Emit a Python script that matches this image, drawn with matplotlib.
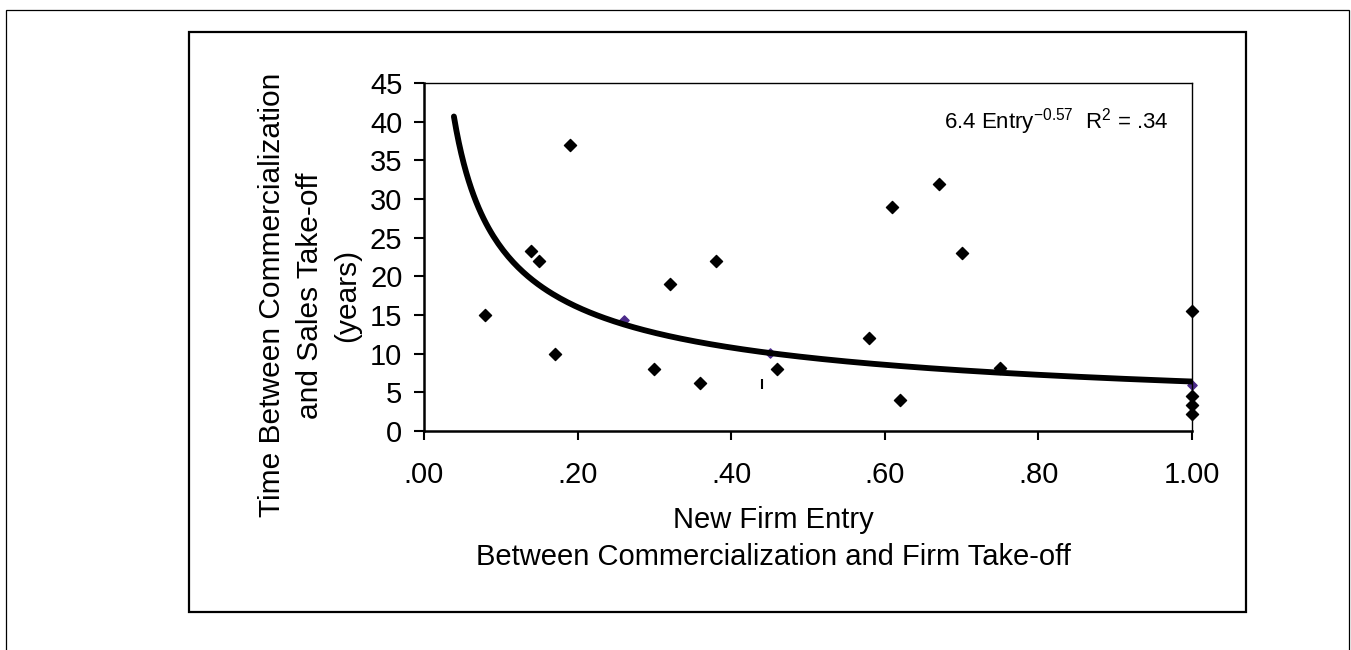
import matplotlib
matplotlib.use("Agg")
import matplotlib.pyplot as plt
from matplotlib.patches import Rectangle
import numpy as np

plt.rcParams["font.family"] = ["Liberation Sans", "DejaVu Sans"]
plt.rcParams["mathtext.fontset"] = "custom"
plt.rcParams["mathtext.rm"] = "Liberation Sans"

# observed products: new firm entry share vs. years to sales take-off
entry = [0.08, 0.19, 0.14, 0.15, 0.17, 0.32, 0.38, 0.30, 0.36, 0.46,
         0.61, 0.67, 0.70, 0.58, 0.62, 0.75, 1.00, 1.00, 1.00, 1.00]
years = [15.0, 37.0, 23.3, 22.0, 10.0, 19.0, 22.0, 8.0, 6.2, 8.0,
         29.0, 32.0, 23.0, 12.0, 4.0, 8.2, 15.5, 4.5, 3.4, 2.2]

# points mostly hidden under the trend line (purple in the source)
hidden_entry = [0.26, 0.45, 1.00]
hidden_years = [14.4, 10.1, 6.0]

# stray dash mark
dash_entry = [0.44]
dash_years = [6.1]

# power trend line as printed on the chart
trend_coef = 6.4
trend_exp = -0.57
trend_start = 0.039

xticks = [0.0, 0.2, 0.4, 0.6, 0.8, 1.0]
xtick_labels = [".00", ".20", ".40", ".60", ".80", "1.00"]
yticks = [0, 5, 10, 15, 20, 25, 30, 35, 40, 45]

fig = plt.figure(figsize=(13.51, 6.5), dpi=100)

# outer page frame and chart frame
fig.patches.append(Rectangle((0.0044, -0.1), 0.9941, 1.0846, transform=fig.transFigure,
                             fill=False, edgecolor="black", linewidth=0.9))
fig.patches.append(Rectangle((0.1399, 0.0585), 0.7824, 0.8923, transform=fig.transFigure,
                             fill=False, edgecolor="black", linewidth=1.6))

ax = fig.add_axes([0.3138, 0.3369, 0.5685, 0.5354])

ax.scatter(hidden_entry, hidden_years, marker="D", s=22, color="#4b2a8a",
           zorder=2, clip_on=False)
trend_x = np.linspace(trend_start, 1.0, 300)
ax.plot(trend_x, trend_coef * trend_x ** trend_exp, color="black", linewidth=4.2,
        zorder=3, solid_capstyle="round")
ax.scatter(entry, years, marker="D", s=38, color="black", zorder=4, clip_on=False)
ax.scatter(dash_entry, dash_years, marker="|", s=50, color="black", linewidths=1.5,
           zorder=4)

ax.set_xlim(0, 1.0)
ax.set_ylim(0, 45)
ax.set_xticks(xticks)
ax.set_xticklabels(xtick_labels)
ax.set_yticks(yticks)

for side in ("left", "bottom"):
    ax.spines[side].set_linewidth(1.8)
for side in ("top", "right"):
    ax.spines[side].set_linewidth(1.0)

ax.tick_params(axis="y", direction="out", length=7.5, width=1.5, pad=8, labelsize=21)
ax.tick_params(axis="x", direction="out", length=6.5, width=1.5, pad=15, labelsize=21)

ax.set_xlabel("New Firm Entry\nBetween Commercialization and Firm Take-off",
              fontsize=21, linespacing=1.42)
ax.xaxis.set_label_coords(0.455, -0.215, transform=ax.transAxes)
ax.xaxis.label.set_va("top")
ax.set_ylabel("Time Between Commercialization\nand Sales Take-off\n(years)",
              fontsize=21.5, linespacing=1.42)
ax.yaxis.set_label_coords(-0.082, 0.39)

ax.text(0.97, 0.888,
        r"6.4 Entry$^{\mathregular{-0.57}}$  R$^{\mathregular{2}}$ = .34",
        transform=ax.transAxes, ha="right", va="center", fontsize=16)

fig.savefig("out.png", dpi=100)
